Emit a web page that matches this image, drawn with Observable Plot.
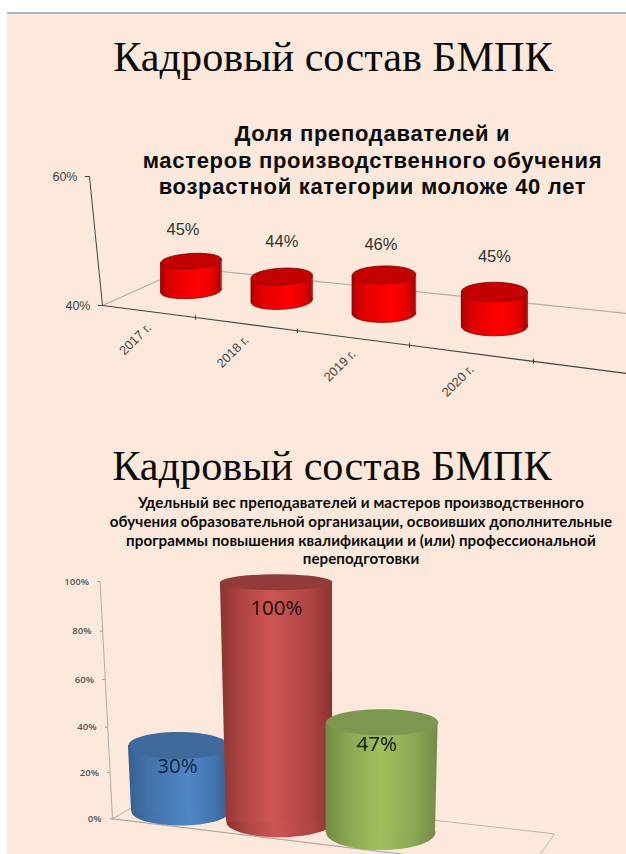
<!DOCTYPE html>
<html lang="ru">
<head>
<meta charset="utf-8">
<title>Кадровый состав БМПК</title>
<script src="https://cdn.jsdelivr.net/npm/d3@7"></script>
<script src="https://cdn.jsdelivr.net/npm/@observablehq/plot@0.6"></script>
<style>
  html, body { margin: 0; padding: 0; background: #fff; overflow: hidden; }
  #page { position: relative; width: 626px; height: 854px; overflow: hidden; }
  #rule { position: absolute; left: 7px; right: 0; top: 12px; height: 2px; background: #a9b3c8; }
  #sheet { position: absolute; left: 7px; right: 0; top: 14px; bottom: 0; background: #fce9db; }
  .heading, .lead { position: absolute; white-space: nowrap; text-align: center; color: #0b0b0b; z-index: 2; }
  .heading { font-family: "Liberation Serif", serif; font-size: 42.2px; line-height: 46px; }
  .lead.a { font-family: "Liberation Sans", sans-serif; font-weight: 700; font-size: 22px; letter-spacing: 0.7px; line-height: 26.5px; }
  .lead.b { font-family: Lato, sans-serif; font-weight: 700; font-size: 15.1px; letter-spacing: 0.1px; line-height: 18.8px; }
  .chart { position: absolute; left: 0; }
  .chart svg { display: block; }
</style>
</head>
<body>
<div id="page">
  <div id="rule"></div>
  <div id="sheet"></div>
  <div class="heading" style="top:34px; left:40px; width:586px">Кадровый состав БМПК</div>
  <div class="lead a" style="top:121px; left:119px; width:507px">Доля преподавателей и<br>мастеров производственного обучения<br>возрастной категории моложе 40 лет</div>
  <div class="chart" id="ageChart" style="top:165px"></div>
  <div class="heading" style="top:443px; left:39px; width:586px">Кадровый состав БМПК</div>
  <div class="lead b" style="top:493px; left:96px; width:530px">Удельный вес преподавателей и мастеров производственного<br>обучения образовательной организации, освоивших дополнительные<br>программы повышения квалификации и (или) профессиональной<br>переподготовки</div>
  <div class="chart" id="trainingChart" style="top:570px"></div>
</div>

<script>
// Share of teaching staff under 40, by year
const years = ["2017 г.", "2018 г.", "2019 г.", "2020 г."];
const youngShare = [45, 44, 46, 45];
const youngTicks = [40, 60];

// Share of staff who completed further training
const trainingShare = [30, 100, 47];
const trainingTicks = [0, 20, 40, 60, 80, 100];

const percent = d => `${d}%`;

// Ellipse symbol for the caps of a cylinder; aspect is ry / rx.
const ellipseSymbol = aspect => ({
  draw(context, size) {
    const rx = Math.sqrt(size / Math.PI), ry = rx * aspect, k = 0.5523;
    context.moveTo(-rx, 0);
    context.bezierCurveTo(-rx, -ry * k, -rx * k, -ry, 0, -ry);
    context.bezierCurveTo(rx * k, -ry, rx, -ry * k, rx, 0);
    context.bezierCurveTo(rx, ry * k, rx * k, ry, 0, ry);
    context.bezierCurveTo(-rx * k, ry, -rx, ry * k, -rx, 0);
    context.closePath();
  }
});

// Horizontal shading for a cylinder wall, as an SVG <defs> mark.
const shading = (id, stops) => () => {
  const defs = d3.create("svg:defs");
  const g = defs.append("linearGradient").attr("id", id);
  stops.forEach(([offset, color]) => g.append("stop").attr("offset", offset).attr("stop-color", color));
  return defs.node();
};

// One cylinder: bottom cap, wall, top cap, all placed through the chart's scales.
function cylinder(xs, c) {
  const px = c.pxPerLevel ?? 1;
  const sin = Math.sin((c.tilt ?? 0) * Math.PI / 180);
  const slotAt = (slot, offset) => xs.invert(xs(slot) + offset);
  const wall = [
    {x1: slotAt(c.slotBottom, -c.rxBottom), x2: slotAt(c.slotBottom, c.rxBottom),
     y1: c.bottom + c.rxBottom * sin / px, y2: c.bottom - c.rxBottom * sin / px},
    {x1: slotAt(c.slotTop, -c.rxTop), x2: slotAt(c.slotTop, c.rxTop),
     y1: c.top + c.rxTop * sin / px, y2: c.top - c.rxTop * sin / px}
  ];
  const marks = [
    Plot.dot([c], {x: () => c.slotBottom, y: () => c.bottom, r: c.rxBottom, rotate: c.tilt ?? 0,
      symbol: ellipseSymbol(c.ryBottom / c.rxBottom), fill: `url(#${c.id})`,
      stroke: c.edge ?? "none", strokeWidth: 0.8}),
    Plot.area(wall, {x1: "x1", y1: "y1", x2: "x2", y2: "y2", fill: `url(#${c.id})`})
  ];
  if (c.edge) {
    marks.push(
      Plot.line(wall, {x: "x1", y: "y1", stroke: c.edge, strokeWidth: 0.8}),
      Plot.line(wall, {x: "x2", y: "y2", stroke: c.edge, strokeWidth: 0.8})
    );
  }
  marks.push(
    Plot.dot([c], {x: () => c.slotTop, y: () => c.top, r: c.rxTop, rotate: c.tilt ?? 0,
      symbol: ellipseSymbol(c.ryTop / c.rxTop), fill: c.capFill,
      stroke: c.edge ?? "none", strokeWidth: 0.8})
  );
  return marks;
}

/* ---------- Age chart: category slots widen toward the viewer ---------- */
const ageSlots = d3.scaleLinear([0, 1, 2, 3, 4, 5], [102, 195, 297, 409, 533, 669]);
const ageX = {transform: ageSlots, domain: [0, 626], range: [0, 626]};
const ageY = {domain: [40, 60], range: [140, 11]};
const agePx = 6.45;                       // pixels per percentage point at the axis
const frontLevel = s => 40 - 0.0201 * (ageSlots(s) - ageSlots(0));
const axisLean = v => -0.14 * (v - 40) / 20;

const ageSlot = [0.952, 1.846, 2.772, 3.685];
const ageFloor = [42.25, 40.7, 38.76, 36.8];
const ageDepth = [0.93, 0.95, 1.0, 1.06];
const ageRx = [30.3, 30.6, 31.7, 33];
const ageRy = [7.5, 8.3, 8.9, 9.7];
const ageTilt = [-3.5, -3, -1, 0];
const ageLabelShift = [[-8, -31], [0, -35], [-3, -30], [0, -35]];

const ageCylinders = youngShare.map((v, i) => ({
  id: `red${i}`, value: v, slotTop: ageSlot[i], slotBottom: ageSlot[i],
  bottom: ageFloor[i], top: ageFloor[i] + (v - 40) * ageDepth[i],
  rxTop: ageRx[i], rxBottom: ageRx[i], ryTop: ageRy[i], ryBottom: ageRy[i],
  tilt: ageTilt[i], pxPerLevel: agePx, capFill: "#c50000", edge: "#7a0505"
}));
const redStops = [["0", "#b30000"], ["0.18", "#e00000"], ["0.62", "#ff0000"], ["0.85", "#e80000"], ["1", "#b00000"]];

const ageFront = [0, 1, 2, 3, 4, 4.684].map(s => ({s, y: frontLevel(s)}));
const ageBack = [{s: 0, y: 40}, {s: 0.903, y: 45.83}, {s: 4.684, y: 38.76}];
const yearTicks = [1, 2, 3, 4];

document.getElementById("ageChart").append(Plot.plot({
  width: 626, height: 245, margin: 0,
  style: {background: "transparent", overflow: "hidden"},
  x: {...ageX, axis: null},
  y: {...ageY, axis: null},
  marks: [
    ...ageCylinders.map(c => shading(c.id, redStops)),
    Plot.line(ageBack, {x: "s", y: "y", stroke: "#b5aeaa", strokeWidth: 1.2}),
    // leaning value axis
    Plot.link([0], {x1: () => axisLean(40), y1: () => 40, x2: () => axisLean(60), y2: () => 60, stroke: "#444", strokeWidth: 1}),
    Plot.link(youngTicks, {x1: v => axisLean(v), x2: v => axisLean(v) - 0.05, y1: v => v, y2: v => v, stroke: "#444", strokeWidth: 1}),
    Plot.text(youngTicks, {x: v => axisLean(v), y: v => v, text: percent, textAnchor: "end", dx: -12,
      fontFamily: "Liberation Sans", fontSize: 12.5, fill: "#444"}),
    // front edge of the floor with category ticks
    Plot.line(ageFront, {x: "s", y: "y", stroke: "#444", strokeWidth: 1.1}),
    Plot.link(yearTicks, {x1: s => s, x2: s => s, y1: s => frontLevel(s) + 0.35, y2: s => frontLevel(s) - 0.35, stroke: "#333", strokeWidth: 1}),
    Plot.text(years, {x: (d, i) => i + 0.5, y: (d, i) => frontLevel(i + 0.5), text: d => d,
      rotate: -45, textAnchor: "end", dx: 0, dy: 14,
      fontFamily: "Liberation Sans", fontSize: 12.8, fill: "#444"}),
    ...ageCylinders.flatMap(c => cylinder(ageSlots, c)),
    ...ageCylinders.map((c, i) => Plot.text([c], {x: () => c.slotTop, y: () => c.top, text: d => percent(d.value),
      dx: ageLabelShift[i][0], dy: ageLabelShift[i][1],
      fontFamily: "Liberation Sans", fontSize: 16.5, fill: "#333"}))
  ]
}));

/* ---------- Training chart: gridlines crowd toward the far end of the axis ---------- */
const trainX = {domain: [0, 3], range: [112, 532]};
const trainWarp = d3.scaleLinear([0, 20, 40, 60, 80, 100], [0, 19.5, 38.6, 58.7, 79.1, 100]);
const trainY = {transform: trainWarp, domain: [0, 100], range: [248.3, 11]};
const trainSlots = d3.scaleLinear(trainX.domain, trainX.range);
const trainLean = v => -12.4 / 140 * v / 100;

const trainFills = [
  {id: "blue", stops: [["0", "#34618f"], ["0.2", "#4273aa"], ["0.6", "#4f86c6"], ["0.85", "#4274ad"], ["1", "#375f90"]], cap: "#3f6a9b", label: "#10243f"},
  {id: "crimson", stops: [["0", "#8c3331"], ["0.2", "#b04644"], ["0.45", "#cc5552"], ["0.8", "#b04644"], ["1", "#8a3230"]], cap: "#913c3a", label: "#1a0c0c"},
  {id: "olive", stops: [["0", "#6f8a42"], ["0.2", "#8aa852"], ["0.5", "#a0c05e"], ["0.8", "#8aa852"], ["1", "#728c47"]], cap: "#7c9750", label: "#10180a"}
];
const trainSlotTop = [0.471, 1.171, 1.926];
const trainSlotBottom = [0.486, 1.193, 1.916];
const trainFloor = [3.2, -1.5, -5.9];
const trainDepth = [0.957, 1.012, 1.02];
const trainRxTop = [50, 56, 56];
const trainRxBottom = [49, 53, 54.7];
const trainRyTop = [13.5, 8, 13];
const trainRyBottom = [14, 15, 17.6];
const trainLabelShift = [[-1, 21], [0, 26], [-5.5, 22]];

const trainCylinders = trainingShare.map((v, i) => ({
  id: trainFills[i].id, value: v, slotTop: trainSlotTop[i], slotBottom: trainSlotBottom[i],
  bottom: trainFloor[i], top: trainFloor[i] + v * trainDepth[i],
  rxTop: trainRxTop[i], rxBottom: trainRxBottom[i], ryTop: trainRyTop[i], ryBottom: trainRyBottom[i],
  capFill: trainFills[i].cap, label: trainFills[i].label
}));

const trainBack = [{s: 0, y: 0}, {s: 0.364, y: 12.6}, {s: 3.157, y: -6.5}, {s: 3.05, y: -15.8}];
const trainFront = [{s: 0, y: 0}, {s: 2.1, y: -15.5}];

document.getElementById("trainingChart").append(Plot.plot({
  width: 626, height: 284, margin: 0,
  style: {background: "transparent", overflow: "hidden"},
  x: {...trainX, axis: null},
  y: {...trainY, axis: null},
  marks: [
    ...trainFills.map(f => shading(f.id, f.stops)),
    Plot.line(trainBack, {x: "s", y: "y", stroke: "#b9b4b0", strokeWidth: 1}),
    Plot.line(trainFront, {x: "s", y: "y", stroke: "#b0aaa6", strokeWidth: 1.2}),
    Plot.link([0], {x1: () => trainLean(0), y1: () => 0, x2: () => trainLean(100), y2: () => 100, stroke: "#b0aaa6", strokeWidth: 1}),
    Plot.link(trainingTicks, {x1: v => trainLean(v), x2: v => trainLean(v) - 0.02, y1: v => v, y2: v => v, stroke: "#a5a09c", strokeWidth: 1}),
    Plot.text(trainingTicks, {x: v => trainLean(v), y: v => v, text: percent, textAnchor: "end", dx: -11,
      fontFamily: "Open Sans", fontWeight: 600, fontSize: 9.6, fill: "#555"}),
    ...trainCylinders.flatMap(c => cylinder(trainSlots, c)),
    ...trainCylinders.map((c, i) => Plot.text([c], {x: () => c.slotTop, y: () => c.top, text: d => percent(d.value),
      dx: trainLabelShift[i][0], dy: trainLabelShift[i][1], fontFamily: "Open Sans", fontSize: 20.5, fill: c.label}))
  ]
}));
</script>
</body>
</html>
